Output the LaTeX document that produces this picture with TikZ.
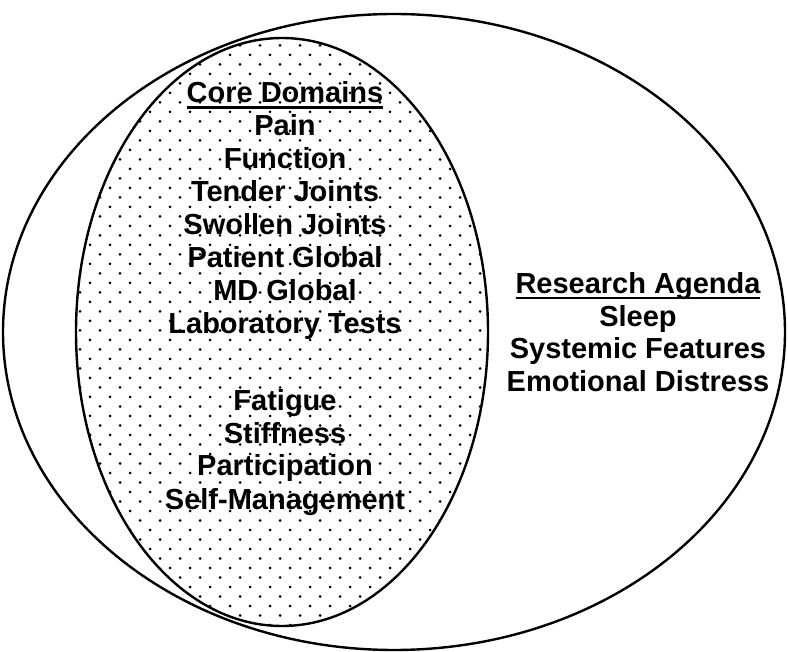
\documentclass[tikz,border=0pt]{standalone}
\usepackage{fontspec}
\setmainfont{Liberation Sans}
\newcommand{\ulined}[1]{\setbox0=\hbox{#1}\makebox[0pt][l]{\rule[-6.5pt]{\wd0}{2.4pt}}\box0}
\begin{document}
\begin{tikzpicture}[x=1pt,y=-1pt,
  rim/.style={line width=2.4pt},
  domaintext/.style={align=center,inner sep=0pt,anchor=base,font=\bfseries\fontsize{29}{33}\selectfont}]
  \useasboundingbox (0,0) rectangle (788,652);
  \begin{scope}
    \clip (282,332) ellipse [x radius=206pt, y radius=294pt];
    \foreach \r in {0,...,64}
      \foreach \c in {0,...,22}
        \fill ({70+20*\c+10*mod(\r,2)},{36+9.5*\r}) circle [radius=1.5pt];
  \end{scope}
  \draw[rim] (394,332) ellipse [x radius=391pt, y radius=318pt];
  \draw[rim] (282,332) ellipse [x radius=206pt, y radius=294pt];
  \node[domaintext] (core) at (285,509) {\ulined{Core Domains}\\Pain\\Function\\Tender Joints\\Swollen Joints\\Patient Global\\MD Global\\Laboratory Tests\\[44pt]Fatigue\\Stiffness\\Participation\\Self-Management};
  \node[domaintext] (agenda) at (638,392) {\ulined{Research Agenda}\\Sleep\\Systemic Features\\Emotional Distress};
\end{tikzpicture}
\end{document}
